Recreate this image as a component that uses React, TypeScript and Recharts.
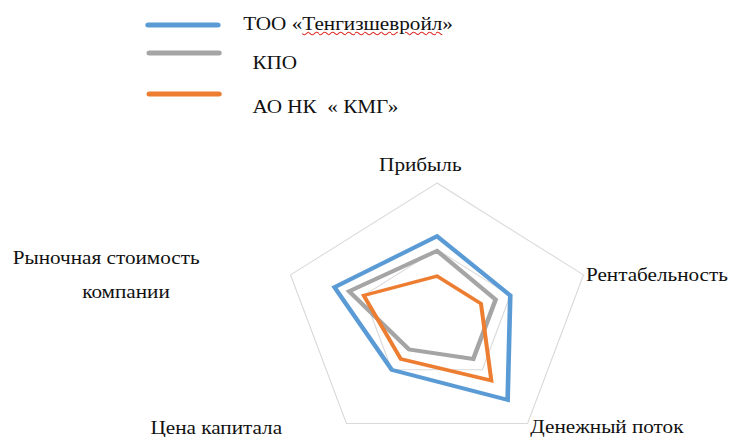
import { RadarChart, Radar, PolarGrid, PolarAngleAxis, PolarRadiusAxis } from "recharts";

// axes, clockwise from the top
const categories = [
	"Прибыль",
	"Рентабельность",
	"Денежный поток",
	"Цена капитала",
	"Рыночная стоимость компании",
];

const tengiz = [6.0, 5.0, 7.8, 5.0, 7.0];
const kpo = [4.9, 4.0, 4.0, 3.1, 6.0];
const kmg = [3.0, 3.0, 6.0, 4.0, 5.0];

const seriesNames = ["ТОО «Тенгизшевройл»", "КПО", "АО НК  « КМГ»"];
const seriesColors = ["#5B9BD5", "#A5A5A5", "#ED7D31"];

const data = categories.map((name, i) => ({
	name,
	tengiz: tengiz[i],
	kpo: kpo[i],
	kmg: kmg[i],
}));

// the source image is stretched horizontally, so the whole chart is too
const STRETCH = 1.158;
const W = 734 / STRETCH;
const H = 437;
const FONT = '"Liberation Serif", "DejaVu Serif", "Times New Roman", serif';
const FS = 18.3;

const labelLayout: { x: number; y: number; anchor: "start" | "middle"; lines: string[] }[] = [
	{ x: 363, y: 165, anchor: "middle", lines: ["Прибыль"] },
	{ x: 506, y: 275, anchor: "start", lines: ["Рентабельность"] },
	{ x: 458, y: 427, anchor: "start", lines: ["Денежный поток"] },
	{ x: 130, y: 428, anchor: "start", lines: ["Цена капитала"] },
	{ x: 11, y: 258, anchor: "start", lines: ["Рыночная стоимость", "компании"] },
];

const AngleTick = (props: any) => {
	const l = labelLayout[props.index];
	if (!l) return null;
	return (
		<text
			x={l.x}
			y={l.y}
			textAnchor={l.anchor}
			dominantBaseline="central"
			fontFamily={FONT}
			fontSize={FS}
			fill="#111"
		>
			{l.lines.map((t, k) => (
				<tspan key={k} x={k === 0 ? l.x : 71} dy={k === 0 ? 0 : 34}>
					{t}
				</tspan>
			))}
		</text>
	);
};

const legendRows = [
	{ lineX: 128, lineY: 25, textX: 210, textY: 24 },
	{ lineX: 129, lineY: 53, textX: 218, textY: 63 },
	{ lineX: 129, lineY: 94, textX: 218, textY: 107 },
];

const Legend = () => (
	<>
		<svg width={W} height={130} style={{ position: "absolute", left: 0, top: 0 }}>
			{legendRows.map((r, i) => (
				<line
					key={i}
					x1={r.lineX}
					x2={r.lineX + 60}
					y1={r.lineY}
					y2={r.lineY}
					stroke={seriesColors[i]}
					strokeWidth={5}
					strokeLinecap="round"
				/>
			))}
		</svg>
		{legendRows.map((r, i) => (
			<div
				key={i}
				style={{
					position: "absolute",
					left: r.textX,
					top: r.textY - 12,
					height: 24,
					lineHeight: "24px",
					fontFamily: FONT,
					fontSize: FS,
					color: "#111",
					whiteSpace: "pre",
				}}
			>
				{i === 0 ? (
					<>
						ТОО «
						<span style={{ textDecoration: "underline wavy #e0302a", textDecorationThickness: 1 }}>
							Тенгизшевройл
						</span>
						»
					</>
				) : (
					seriesNames[i]
				)}
			</div>
		))}
	</>
);

export default function App() {
	return (
		<div style={{ position: "absolute", left: 0, top: 0, width: 734, height: H, background: "#fff", overflow: "hidden" }}>
			<div
				style={{
					position: "absolute",
					left: 0,
					top: 0,
					width: W,
					height: H,
					transform: `scaleX(${STRETCH})`,
					transformOrigin: "0 0",
				}}
			>
				<Legend />
				<RadarChart
					width={W}
					height={H}
					data={data}
					cx={377.4}
					cy={316}
					outerRadius={133}
					margin={{ top: 0, right: 0, bottom: 0, left: 0 }}
					style={{ position: "absolute", left: 0, top: 0 }}
				>
					<PolarGrid gridType="polygon" radialLines={false} stroke="#D9D9D9" polarRadius={[66.5, 133]} />
					<PolarAngleAxis dataKey="name" tick={<AngleTick />} tickLine={false} axisLine={false} />
					<PolarRadiusAxis domain={[0, 10]} tick={false} axisLine={false} tickCount={3} />
					<Radar dataKey="tengiz" stroke={seriesColors[0]} strokeWidth={4} fill="none" isAnimationActive={false} />
					<Radar dataKey="kpo" stroke={seriesColors[1]} strokeWidth={4} fill="none" isAnimationActive={false} />
					<Radar dataKey="kmg" stroke={seriesColors[2]} strokeWidth={3.5} fill="none" isAnimationActive={false} />
				</RadarChart>
			</div>
		</div>
	);
}
